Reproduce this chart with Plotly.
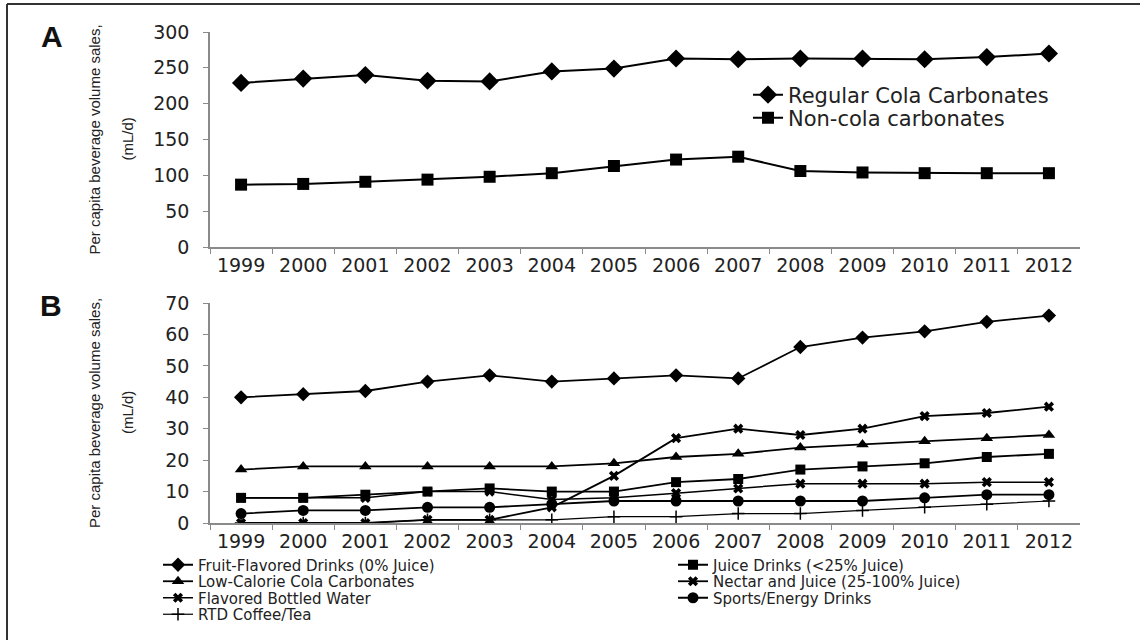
import plotly.graph_objects as go

years = [str(y) for y in range(1999, 2013)]

# Panel A
regular_cola = [229, 235, 240, 232, 231, 245, 249, 263, 262, 263, 263, 262, 265, 270]
non_cola = [87, 88, 91, 94, 98, 103, 113, 122, 126, 106, 104, 103, 103, 103]

# Panel B
fruit_flavored = [40, 41, 42, 45, 47, 45, 46, 47, 46, 56, 59, 61, 64, 66]
juice_drinks = [8, 8, 9, 10, 11, 10, 10, 13, 14, 17, 18, 19, 21, 22]
low_cal_cola = [17, 18, 18, 18, 18, 18, 19, 21, 22, 24, 25, 26, 27, 28]
nectar_juice = [0, 0, 0, 1, 1, 5, 15, 27, 30, 28, 30, 34, 35, 37]
flavored_water = [8, 8, 8, 10, 10, 7.5, 8, 9.5, 11, 12.5, 12.5, 12.5, 13, 13]
sports_energy = [3, 4, 4, 5, 5, 6, 7, 7, 7, 7, 7, 8, 9, 9]
rtd_coffee_tea = [0, 0, 0, 1, 1, 1, 2, 2, 3, 3, 4, 5, 6, 7]

W, H = 1140, 640
def px(x):
    return x / W
def py(y):
    return 1 - y / H

fig = go.Figure()

tick_font = dict(family="DejaVu Sans", size=19, color="#222")

# Panel A traces
fig.add_trace(go.Scatter(x=years, y=regular_cola, name="Regular Cola Carbonates", mode="lines+markers",
                         line=dict(color="black", width=2), marker=dict(symbol="diamond", size=14, color="black"),
                         xaxis="x", yaxis="y", legend="legend"))
fig.add_trace(go.Scatter(x=years, y=non_cola, name="Non-cola carbonates", mode="lines+markers",
                         line=dict(color="black", width=2), marker=dict(symbol="square", size=12, color="black"),
                         xaxis="x", yaxis="y", legend="legend2"))

b_series = [
    ("Fruit-Flavored Drinks (0% Juice)", fruit_flavored, "diamond", 11, 1.8, "legend3"),
    ("Juice Drinks (<25% Juice)", juice_drinks, "square", 10, 1.8, "legend4"),
    ("Low-Calorie Cola Carbonates", low_cal_cola, "triangle-up", 11, 1.8, "legend5"),
    ("Nectar and Juice (25-100% Juice)", nectar_juice, "x", 9, 1.8, "legend6"),
    ("Flavored Bottled Water", flavored_water, "x", 9, 1.5, "legend7"),
    ("Sports/Energy Drinks", sports_energy, "circle", 11, 1.8, "legend8"),
    ("RTD Coffee/Tea", rtd_coffee_tea, "cross-thin-open", 9, 1.2, "legend9"),
]
for name, vals, sym, size, lw, lg in b_series:
    fig.add_trace(go.Scatter(x=years, y=vals, name=name, mode="lines+markers",
                             line=dict(color="black", width=lw),
                             marker=dict(symbol=sym, size=size, color="black",
                                         line=dict(color="black", width=1.5 if "open" in sym else 0)),
                             xaxis="x2", yaxis="y2", legend=lg))

xdom = [px(210), px(1080)]
axis_common = dict(showline=True, linecolor="#8a8a8a", linewidth=1.5, ticks="outside",
                   tickcolor="#8a8a8a", ticklen=5, showgrid=False, zeroline=False,
                   tickfont=tick_font, automargin=False)

layout = dict(
    width=W, height=H, autosize=False,
    margin=dict(l=0, r=0, t=0, b=0),
    paper_bgcolor="white", plot_bgcolor="white",
    showlegend=True,
    xaxis=dict(domain=xdom, anchor="y", type="category", tickson="boundaries",
               range=[-0.5, 13.5], **axis_common),
    yaxis=dict(domain=[py(247), py(32)], anchor="x", range=[0, 300], dtick=50,
               ticklabelstandoff=10, **axis_common),
    xaxis2=dict(domain=xdom, anchor="y2", type="category", tickson="boundaries",
                range=[-0.5, 13.5], **axis_common),
    yaxis2=dict(domain=[py(523), py(303)], anchor="x2", range=[0, 70], dtick=10,
                ticklabelstandoff=10, **axis_common),
)

def leg(x_text, y_center, size):
    return dict(x=px(x_text - 42), y=py(y_center), xanchor="left", yanchor="middle",
                bgcolor="rgba(0,0,0,0)", borderwidth=0,
                font=dict(family="DejaVu Sans", size=size, color="#222"))

layout["legend"] = leg(790, 95, 21)
layout["legend2"] = leg(790, 118, 21)
layout["legend3"] = leg(200, 565, 15)
layout["legend4"] = leg(715, 565, 15)
layout["legend5"] = leg(200, 581.5, 15)
layout["legend6"] = leg(715, 581.5, 15)
layout["legend7"] = leg(200, 598, 15)
layout["legend8"] = leg(715, 598, 15)
layout["legend9"] = leg(200, 614.5, 15)

fig.update_layout(**layout)

title_font = dict(family="Liberation Sans", size=15, color="#222")
annos = []
for yc in [(32 + 247) / 2, (303 + 523) / 2]:
    annos.append(dict(text="Per capita beverage volume sales,", x=px(94), y=py(yc), xref="paper", yref="paper",
                      textangle=-90, showarrow=False, font=title_font, xanchor="center", yanchor="middle"))
    annos.append(dict(text="(mL/d)", x=px(127), y=py(yc), xref="paper", yref="paper",
                      textangle=-90, showarrow=False, font=title_font, xanchor="center", yanchor="middle"))
annos.append(dict(text="<b>A</b>", x=px(52), y=py(36), xref="paper", yref="paper", showarrow=False,
                  font=dict(family="Liberation Sans", size=30, color="#111"), xanchor="center", yanchor="middle"))
annos.append(dict(text="<b>B</b>", x=px(51), y=py(305), xref="paper", yref="paper", showarrow=False,
                  font=dict(family="Liberation Sans", size=30, color="#111"), xanchor="center", yanchor="middle"))
fig.update_layout(annotations=annos)

# outer frame (top and left edges)
fig.add_shape(type="line", xref="paper", yref="paper", x0=px(7), x1=1, y0=py(4), y1=py(4),
              line=dict(color="#333", width=2))
fig.add_shape(type="line", xref="paper", yref="paper", x0=px(7), x1=px(7), y0=py(4), y1=0,
              line=dict(color="#333", width=2))

fig.write_html("out.html", config={"displayModeBar": False},
               post_script="document.body.style.margin='0';")
